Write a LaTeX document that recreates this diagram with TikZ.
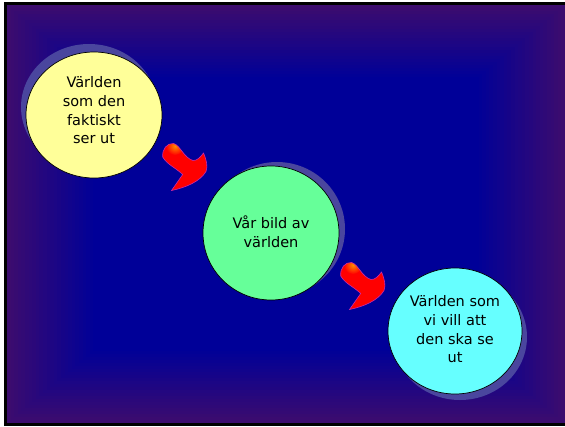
\documentclass[tikz,border=0pt]{standalone}
\usepackage{fontspec}
\setmainfont{DejaVu Sans}
\usetikzlibrary{shapes.geometric}
\definecolor{edgec}{RGB}{60,12,110}
\definecolor{centc}{RGB}{0,0,152}
\definecolor{shadowc}{RGB}{74,70,158}
\definecolor{yel}{RGB}{255,255,153}
\definecolor{grn}{RGB}{102,255,153}
\definecolor{cyn}{RGB}{102,255,255}
\definecolor{arrowrim}{RGB}{200,40,170}
\tikzset{
  bubble/.style={ellipse, draw=black, line width=0.7pt, inner sep=0pt},
  bubbletext/.style={align=center, inner sep=0pt, text=black,
    font={\fontsize{14.5pt}{18.7pt}\selectfont}},
  bshadow/.style={fill=shadowc},
}
\newcommand{\arrowpath}{(162.7,157) .. controls (162,149) and (167,143) .. (173.5,143.5)
   .. controls (180,145) and (184,158) .. (193,160.5)
   .. controls (197,161) and (200.5,157) .. (203.5,153)
   .. controls (206.5,160) and (208,166) .. (206,171.5)
   .. controls (200,181.5) and (186,187.5) .. (171.5,190.5)
   -- (182.7,174.5)
   .. controls (176,168) and (167,164.5) .. cycle}
\begin{document}
\begin{tikzpicture}[x=1pt,y=-1pt]
\useasboundingbox (0,0) rectangle (565,426);
\fill[white] (0,0) rectangle (565,426);
\fill[black] (4,2) rectangle (565,426);
\foreach \i in {0,...,24}{
  \pgfmathtruncatemacro\p{round(\i*100/24)}
  \fill[centc!\p!edgec] ({7+\i*3.6},{5+\i*3}) rectangle ({565-\i*3.6},{423-\i*3});
}
% shadows
\fill[bshadow] (89,107) ellipse [x radius=68, y radius=63];
\fill[bshadow] (277,229) ellipse [x radius=68, y radius=67];
\fill[bshadow] (460,337) ellipse [x radius=67, y radius=63];
% bubbles
\node[bubble, fill=yel, minimum width=136pt, minimum height=126pt] (world) at (94,115) {};
\node[bubble, fill=grn, minimum width=136pt, minimum height=134pt] (image) at (271,233) {};
\node[bubble, fill=cyn, minimum width=134pt, minimum height=126pt] (wish) at (455,331) {};
\node[bubbletext] (worldtext) at (94,110.5) {Världen\\som den\\faktiskt\\ser ut};
\node[bubbletext] (imagetext) at (271,231.5) {Vår bild av\\världen};
\node[bubbletext] (wishtext) at (455,329.5) {Världen som\\vi vill att\\den ska se\\ut};
% arrows
\foreach \dx/\dy in {0/0,178/119}{
  \begin{scope}[shift={(\dx,\dy)}]
    \fill[red] \arrowpath;
    \begin{scope}
      \clip \arrowpath;
      \shade[inner color=orange!90!yellow, outer color=red] (175,146) circle (9);
    \end{scope}
    \draw[draw=arrowrim, line width=0.6pt] \arrowpath;
  \end{scope}
}
\end{tikzpicture}
\end{document}
